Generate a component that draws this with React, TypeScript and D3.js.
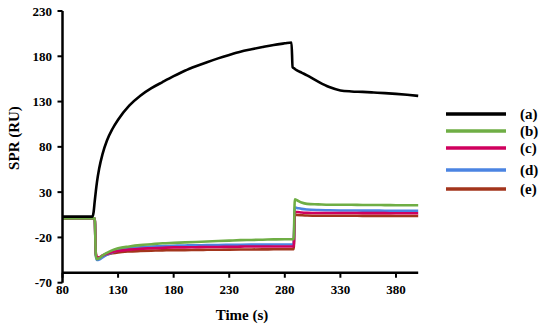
import { useEffect, useRef } from "react";
import * as d3 from "d3";

// sampled time points (s)
const times = [
  80, 95, 107, 108, 109, 110, 111, 113, 116, 120, 125, 130, 140, 150, 160, 170, 180, 190, 200,
  210, 220, 230, 240, 250, 260, 270, 280, 286, 287, 288, 289, 291, 295, 300, 310, 320, 330,
  340, 350, 360, 370, 380, 390, 400,
];

const seriesA = [
  3, 3, 3, 8, 20, 31, 41, 56, 72, 87, 100, 110, 125.5, 136.5, 144.8, 151.5, 158, 164, 169,
  173.5, 177.7, 181.5, 185, 187.7, 190.2, 192.5, 194.3, 195.3, 168, 167, 166, 164.5, 162, 159, 152, 146, 142.3,
  141.2, 140.7, 140, 139.3, 138.5, 137.5, 136.3,
];
const seriesB = [
  1, 1, 1, 1, 1, -40, -44, -43, -40, -37, -34, -32, -30, -28.5, -27.5, -26.5, -26, -25.5, -25,
  -24.5, -24, -23.5, -23, -22.8, -22.5, -22.2, -22, -22, -22, -22, 22, 21, 18.5, 17, 16.5, 16, 16,
  16, 15.8, 15.8, 15.7, 15.6, 15.5, 15.5,
];
const seriesC = [
  1, 1, 1, 1, 1, -38, -42, -42, -40, -38, -36, -35, -33.5, -32.5, -32, -31.5, -31, -31, -30.8,
  -30.6, -30.5, -30.3, -30.2, -30, -30, -30, -30, -30, -30, -30, 8, 8, 7.5, 7.2, 7, 7, 7,
  7, 6.8, 6.8, 6.8, 6.7, 6.7, 6.6,
];
const seriesD = [
  1, 1, 1, 1, 1, -40, -45, -44.5, -42, -39, -36.5, -34.5, -32, -31, -30.2, -29.6, -29.2, -28.9, -28.7,
  -28.5, -28.3, -28.2, -28.1, -28, -28, -27.9, -27.8, -27.8, -27.8, -27.8, 13, 12.5, 11.5, 10.8, 10.2, 10, 9.8,
  9.7, 9.6, 9.6, 9.5, 9.5, 9.4, 9.4,
];
const seriesE = [
  1, 1, 1, 1, 1, -38, -42, -42.5, -41, -39, -37.5, -36.5, -35.5, -35, -34.6, -34.3, -34, -34, -33.8,
  -33.7, -33.6, -33.5, -33.4, -33.3, -33.2, -33.1, -33, -33, -33, -33, 5, 4.8, 4.5, 4.2, 4, 4, 3.9,
  3.9, 3.8, 3.8, 3.8, 3.7, 3.7, 3.7,
];

const legendLabels = ["(a)", "(b)", "(c)", "(d)", "(e)"];
const colors = ["#000000", "#6fae45", "#d0005e", "#4b84e2", "#a3351c"];
const xTicks = [80, 130, 180, 230, 280, 330, 380];
const yTicks = [-70, -20, 30, 80, 130, 180, 230];

const FONT = "Liberation Serif";

function App() {
  const svgRef = useRef<HTMLDivElement>(null);
  const width = 550;
  const height = 330;

  useEffect(() => {
    document.body.style.margin = "0";
    buildChart();
  }, []);

  const buildChart = () => {
    d3.select(svgRef.current).selectAll("*").remove();
    const svg = d3
      .select(svgRef.current)
      .append("svg")
      .attr("width", width)
      .attr("height", height)
      .style("display", "block");

    const x = d3.scaleLinear().domain([80, 400]).range([62.5, 418.2]);
    const y = d3.scaleLinear().domain([-70, 230]).range([282.7, 11]);
    const xAxisY = y(-59);

    const all = [seriesA, seriesB, seriesC, seriesD, seriesE];

    const line = d3
      .line<number>()
      .x((_, i) => x(times[i]))
      .y((d) => y(d))
      .curve(d3.curveMonotoneX);

    // draw coloured traces first, black on top
    [4, 3, 2, 1, 0].forEach((k) => {
      svg
        .append("path")
        .datum(all[k])
        .attr("d", line)
        .attr("fill", "none")
        .attr("stroke", colors[k])
        .attr("stroke-width", 2.6)
        .attr("stroke-linejoin", "round");
    });

    const addText = (tx: number, ty: number, s: string | number, size: number, anchor: string) =>
      svg
        .append("text")
        .attr("x", tx)
        .attr("y", ty)
        .attr("text-anchor", anchor)
        .style("font-family", FONT)
        .style("font-weight", "bold")
        .style("font-size", `${size}px`)
        .text(s);

    // y axis
    svg
      .append("line")
      .attr("x1", x(80))
      .attr("x2", x(80))
      .attr("y1", y(-70))
      .attr("y2", y(230))
      .attr("stroke", "#000")
      .attr("stroke-width", 2.5);
    yTicks.forEach((t) => {
      svg
        .append("line")
        .attr("x1", x(80) - 5)
        .attr("x2", x(80))
        .attr("y1", y(t))
        .attr("y2", y(t))
        .attr("stroke", "#000")
        .attr("stroke-width", 2);
      addText(52, y(t), t, 13, "end").attr("dy", "0.35em");
    });

    // x axis
    svg
      .append("line")
      .attr("x1", x(80))
      .attr("x2", x(400))
      .attr("y1", xAxisY)
      .attr("y2", xAxisY)
      .attr("stroke", "#000")
      .attr("stroke-width", 2.5);
    xTicks.forEach((t) => {
      svg
        .append("line")
        .attr("x1", x(t))
        .attr("x2", x(t))
        .attr("y1", xAxisY)
        .attr("y2", xAxisY + 5)
        .attr("stroke", "#000")
        .attr("stroke-width", 2);
      addText(x(t), 294, t, 13, "middle");
    });

    addText(242, 320, "Time (s)", 15, "middle");
    addText(0, 0, "SPR (RU)", 15, "middle").attr("transform", "translate(19,138) rotate(-90)");

    // legend
    const rows = [114, 131, 148, 170, 189];
    legendLabels.forEach((lab, i) => {
      svg
        .append("line")
        .attr("x1", 446)
        .attr("x2", 506)
        .attr("y1", rows[i])
        .attr("y2", rows[i])
        .attr("stroke", colors[i])
        .attr("stroke-width", 3.5);
      addText(520, rows[i], lab, 15, "start").attr("dy", "0.35em");
    });
  };

  return (
    <div ref={svgRef}></div>
  );
}

export default App;
